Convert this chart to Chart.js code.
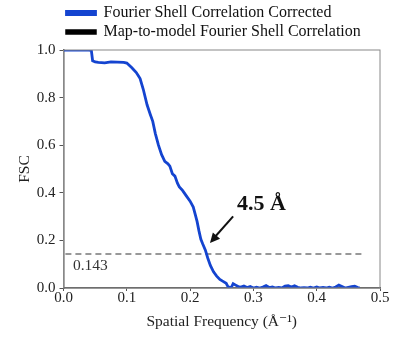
<!DOCTYPE html>
<html>
<head>
<meta charset="utf-8">
<script src="https://cdn.jsdelivr.net/npm/chart.js@4.4.1/dist/chart.umd.min.js"></script>
<style>
  html, body { margin: 0; padding: 0; background: #fff; }
  #wrap { width: 397px; height: 341px; }
</style>
</head>
<body>
<div id="wrap"><canvas id="myChart" width="397" height="341"></canvas></div>
<script>
// spatial frequency (1/A) and corrected FSC
let freq = [0.000, 0.040, 0.044, 0.046, 0.050, 0.055, 0.065, 0.075, 0.085, 0.095,
  0.100, 0.108, 0.115, 0.121, 0.126, 0.132, 0.137, 0.141, 0.145, 0.150,
  0.155, 0.160, 0.165, 0.168, 0.172, 0.176, 0.180, 0.183, 0.188, 0.194,
  0.200, 0.205, 0.208, 0.211, 0.214, 0.217, 0.220, 0.224, 0.228, 0.232,
  0.237, 0.242, 0.247, 0.252, 0.257, 0.260, 0.265, 0.268, 0.272, 0.276,
  0.280, 0.285, 0.290, 0.295, 0.300, 0.305, 0.310, 0.315, 0.320, 0.325,
  0.330, 0.335, 0.340, 0.345, 0.350, 0.355, 0.360, 0.365, 0.370, 0.375,
  0.380, 0.385, 0.390, 0.395, 0.400, 0.405, 0.410, 0.415, 0.420, 0.425,
  0.430, 0.435, 0.440, 0.445, 0.450, 0.455, 0.460, 0.465, 0.468];
let fscCorrected = [1.000, 1.000, 0.998, 0.955, 0.950, 0.948, 0.946, 0.950, 0.949, 0.948,
  0.945, 0.925, 0.905, 0.880, 0.835, 0.770, 0.730, 0.700, 0.650, 0.600,
  0.560, 0.532, 0.522, 0.512, 0.480, 0.470, 0.440, 0.425, 0.410, 0.387,
  0.365, 0.340, 0.310, 0.280, 0.240, 0.205, 0.185, 0.160, 0.125, 0.095,
  0.068, 0.050, 0.036, 0.028, 0.020, 0.005, 0.002, 0.018, 0.012, 0.006,
  0.004, 0.008, 0.002, 0.006, 0.000, 0.003, 0.000, 0.004, 0.010, 0.002,
  0.004, 0.000, 0.002, 0.000, 0.008, 0.010, 0.004, 0.009, 0.003, 0.000,
  0.001, 0.000, 0.003, 0.000, 0.004, 0.000, 0.002, 0.000, 0.003, 0.000,
  0.004, 0.012, 0.006, 0.000, 0.003, 0.006, 0.008, 0.002, 0.000];
let fscMapModel = []; // only shown in the legend

let threshold = 0.143;
let thresholdRange = [0.003, 0.476];
let resolutionLabel = '4.5 Å';
let xTicks = [0, 0.1, 0.2, 0.3, 0.4, 0.5];
let yTicks = [0, 0.2, 0.4, 0.6, 0.8, 1.0];

Chart.defaults.font.family = '"Liberation Serif", "DejaVu Serif", serif';
Chart.defaults.color = '#222';

let extras = {
    id: 'extras',
    afterDatasetsDraw(chart) {
        let c = chart.ctx, a = chart.chartArea;
        let xs = chart.scales.x, ys = chart.scales.y;
        c.save();
        // frame
        c.strokeStyle = '#888';
        c.lineWidth = 1;
        c.strokeRect(a.left, a.top, a.right - a.left, a.bottom - a.top);
        // threshold value
        c.fillStyle = '#333';
        c.font = '15.5px "Liberation Serif"';
        c.textBaseline = 'middle';
        c.fillText(threshold.toString(), xs.getPixelForValue(0.015), ys.getPixelForValue(threshold) + 12);
        // resolution text + arrow
        c.font = 'bold 22px "Liberation Serif"';
        c.fillStyle = '#111';
        c.fillText(resolutionLabel, xs.getPixelForValue(0.274), ys.getPixelForValue(0.352));
        let x0 = xs.getPixelForValue(0.268), y0 = ys.getPixelForValue(0.301);
        let x1 = xs.getPixelForValue(0.2314), y1 = ys.getPixelForValue(0.189);
        c.strokeStyle = '#111';
        c.lineWidth = 2;
        c.beginPath();
        c.moveTo(x0, y0);
        c.lineTo(x1 + 4, y1 - 5);
        c.stroke();
        let ang = Math.atan2(y1 - y0, x1 - x0);
        c.beginPath();
        c.moveTo(x1, y1);
        c.lineTo(x1 - 11 * Math.cos(ang - 0.45), y1 - 11 * Math.sin(ang - 0.45));
        c.lineTo(x1 - 11 * Math.cos(ang + 0.45), y1 - 11 * Math.sin(ang + 0.45));
        c.closePath();
        c.fill();
        c.restore();
    }
};

let ctx = document.getElementById('myChart').getContext('2d');
let myChart = new Chart(ctx, {
    type: 'line',
    data: {
        datasets: [{
            label: 'Fourier Shell Correlation Corrected',
            data: freq.map((f, i) => ({x: f, y: fscCorrected[i]})),
            borderColor: '#1444d0',
            backgroundColor: '#1444d0',
            borderWidth: 2.8,
            pointRadius: 0,
            tension: 0
        }, {
            label: 'Map-to-model Fourier Shell Correlation',
            data: fscMapModel,
            borderColor: '#000',
            backgroundColor: '#000',
            borderWidth: 2.5,
            pointRadius: 0
        }, {
            label: 'threshold',
            data: thresholdRange.map(f => ({x: f, y: threshold})),
            borderColor: '#777',
            borderWidth: 1.5,
            borderDash: [6, 4],
            pointRadius: 0
        }]
    },
    options: {
        responsive: false,
        animation: false,
        layout: { padding: { left: 0, right: 17, top: 2, bottom: 0 } },
        plugins: {
            legend: {
                position: 'top',
                align: 'start',
                fullSize: false,
                labels: {
                    boxWidth: 29,
                    boxHeight: 3,
                    padding: 3,
                    color: '#111',
                    font: { size: 16 },
                    filter: item => item.datasetIndex < 2
                }
            },
            tooltip: { enabled: false }
        },
        scales: {
            x: {
                type: 'linear',
                min: 0,
                max: 0.5,
                afterBuildTicks: s => { s.ticks = xTicks.map(v => ({value: v})); },
                afterFit: s => { s.height = 53; },
                ticks: { font: { size: 15 }, padding: -2, maxRotation: 0, callback: v => v.toFixed(1), color: '#222' },
                grid: { drawOnChartArea: false, tickLength: 3, color: '#555' },
                border: { color: '#555', width: 1.5 },
                title: { display: true, text: 'Spatial Frequency (Å⁻¹)', font: { size: 15.5 }, padding: { top: 0, bottom: 10 }, color: '#222' }
            },
            y: {
                min: 0,
                max: 1,
                afterBuildTicks: s => { s.ticks = yTicks.map(v => ({value: v})); },
                afterFit: s => { s.width = 63.5; },
                ticks: { font: { size: 15 }, padding: 4, callback: v => v.toFixed(1), color: '#222' },
                grid: { drawOnChartArea: false, tickLength: 4, color: '#555' },
                border: { color: '#555', width: 1.5 },
                title: { display: true, text: 'FSC', font: { size: 15.5 }, padding: { top: 16, bottom: 0 }, color: '#222' }
            }
        }
    },
    plugins: [extras]
});
</script>
</body>
</html>
